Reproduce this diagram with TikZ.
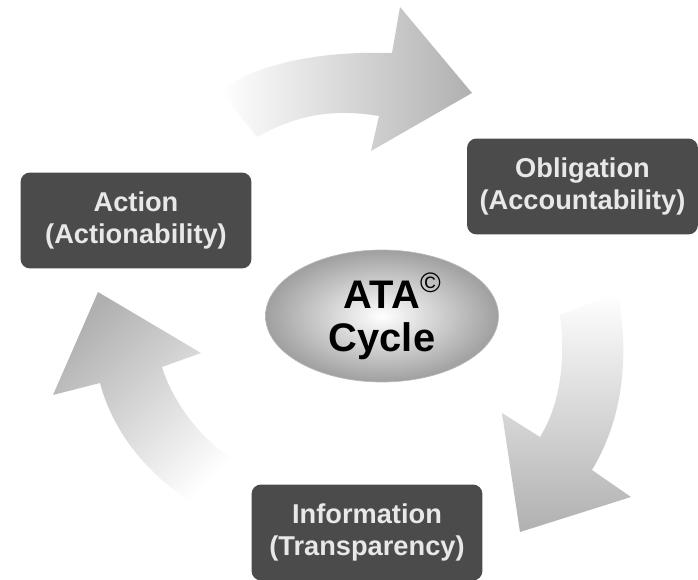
\documentclass[tikz,border=0pt]{standalone}
\usepackage{fontspec}
\setmainfont{Liberation Sans}
\usetikzlibrary{shapes.geometric}
\definecolor{boxgray}{HTML}{4B4B4B}
\definecolor{boxtext}{HTML}{E8E8E8}
\definecolor{arrowgray}{HTML}{B0B0B0}

\begin{document}
\begin{tikzpicture}[x=0.02cm, y=-0.02cm,
    stage/.style = {fill=boxgray, text=boxtext, rounded corners=5.5pt, minimum width=4.62cm, minimum height=1.92cm, align=center, font=\bfseries\fontsize{15.5}{18.5}\selectfont},
    hub/.style = {ellipse, draw=gray!55, inner color=white, outer color=gray!75, minimum width=4.66cm, minimum height=2.64cm, inner sep=0pt, align=center, font=\bfseries\fontsize{22.7}{24.5}\selectfont}]
    \useasboundingbox (0,0) rectangle (698,580);
    % Arrows
    \shade[left color=white, right color=arrowgray]
        (220,90) .. controls (262,62) and (322,51) .. (392,53) -- (400,7) -- (472,93)
        -- (371,151) -- (379,116) .. controls (330,108) and (295,116) .. (257,137) -- cycle;
    \shade[top color=white, bottom color=arrowgray]
        (618,292) .. controls (630,360) and (622,420) .. (592,470) -- (631,497) -- (520,532)
        -- (502,413) -- (540,437) .. controls (560,405) and (566,360) .. (560,315) -- cycle;
    \shade[top color=arrowgray, bottom color=white, shading angle=45]
        (98,292) -- (53,395) -- (100,383) .. controls (115,440) and (160,490) .. (217,515)
        -- (236,461) .. controls (200,440) and (172,400) .. (162,367) -- (201,353) -- cycle;
    % Nodes
    \node[stage] (action) at (136,220.5) {Action\\(Actionability)};
    \node[stage] (obligation) at (582.5,186.5) {Obligation\\(Accountability)};
    \node[stage] (information) at (367,532.5) {Information\\(Transparency)};
    \node[hub] (cycle) at (382,316) {ATA\rlap{\raisebox{9pt}{\fontsize{16}{16}\selectfont\mdseries\textcopyright}}\\Cycle};
\end{tikzpicture}
\end{document}
